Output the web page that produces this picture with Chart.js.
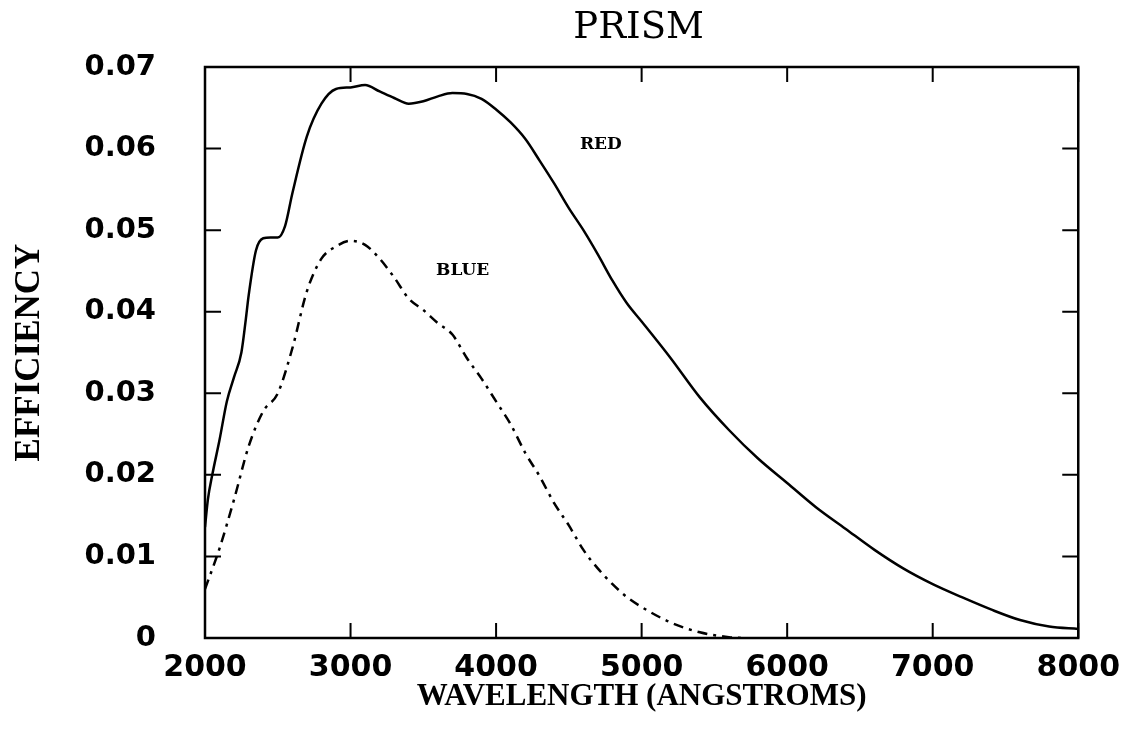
<!DOCTYPE html>
<html>
<head>
<meta charset="utf-8">
<script src="https://cdn.jsdelivr.net/npm/chart.js@4.4.1/dist/chart.umd.min.js"></script>
<style>
  html, body { margin: 0; padding: 0; background: #fff; }
  #wrap { width: 1124px; height: 740px; }
</style>
</head>
<body>
<div id="wrap"><canvas id="prism" width="1124" height="740"></canvas></div>
<script>
// wavelength grid (angstroms) and efficiency
var redWave = [2000,2020,2050,2100,2150,2200,2250,2280,2300,2350,2400,2450,2500,2550,2600,2700,2800,2900,3000,3100,3200,3300,3400,3500,3600,3700,3800,3900,4000,4100,4200,4300,4400,4500,4600,4700,4800,4900,5000,5200,5400,5600,5800,6000,6200,6400,6600,6800,7000,7200,7400,7600,7800,8000];
var redEff  = [0.0136,0.0170,0.0200,0.0243,0.0290,0.0320,0.0350,0.0390,0.0420,0.0475,0.0490,0.0491,0.0491,0.0505,0.0545,0.0615,0.0655,0.0673,0.0675,0.0678,0.0670,0.0662,0.0655,0.0658,0.0664,0.0668,0.0667,0.0661,0.0648,0.0632,0.0612,0.0585,0.0557,0.0527,0.0500,0.0470,0.0438,0.0410,0.0388,0.0343,0.0295,0.0255,0.0220,0.0190,0.0160,0.0134,0.0108,0.0085,0.0066,0.0050,0.0035,0.0022,0.0014,0.0011];

var blueWave = [2000,2100,2200,2300,2400,2500,2600,2700,2800,2900,3000,3100,3200,3300,3400,3500,3600,3700,3800,3900,4000,4100,4200,4300,4400,4500,4600,4700,4800,4900,5000,5200,5400,5600,5700];
var blueEff  = [0.0060,0.0110,0.0170,0.0235,0.0278,0.0300,0.0355,0.0425,0.0465,0.0480,0.0487,0.0482,0.0465,0.0442,0.0416,0.0402,0.0386,0.0372,0.0343,0.0318,0.0290,0.0262,0.0227,0.0198,0.0165,0.0138,0.0108,0.0085,0.0066,0.0050,0.0038,0.0019,0.0007,0.0001,0.0000];

var xTicks = [2000,3000,4000,5000,6000,7000,8000];
var yTicks = [0,0.01,0.02,0.03,0.04,0.05,0.06,0.07];
var curveLabels = ["RED","BLUE"];
var labelAt = [[4720,0.0605],[3770,0.0450]];
var chartTitle = "PRISM";

function pairs(xs, ys) {
  return xs.map(function (x, i) { return {x: x, y: ys[i]} })
}

// frame box, inward ticks on all four sides, title and the curve names
var framePlugin = {
  id: "frame",
  afterDatasetsDraw: function (chart) {
    var ctx = chart.ctx
    var a = chart.chartArea
    var xs = chart.scales.x
    var ys = chart.scales.y
    ctx.save()
    ctx.strokeStyle = "#000"
    ctx.lineWidth = 2.5
    ctx.strokeRect(a.left, a.top, a.right - a.left, a.bottom - a.top)
    ctx.lineWidth = 2
    ctx.beginPath()
    xTicks.forEach(function (v) {
      var px = xs.getPixelForValue(v)
      ctx.moveTo(px, a.bottom); ctx.lineTo(px, a.bottom - 15)
      ctx.moveTo(px, a.top); ctx.lineTo(px, a.top + 15)
    })
    yTicks.forEach(function (v) {
      var py = ys.getPixelForValue(v)
      ctx.moveTo(a.left, py); ctx.lineTo(a.left + 16, py)
      ctx.moveTo(a.right, py); ctx.lineTo(a.right - 16, py)
    })
    ctx.stroke()
    ctx.fillStyle = "#000"
    ctx.textAlign = "center"
    ctx.textBaseline = "middle"
    ctx.font = "37px 'DejaVu Serif', serif"
    ctx.fillText(chartTitle, (a.left + a.right) / 2 - 3, 28)
    ctx.font = "bold 17px 'DejaVu Serif', serif"
    curveLabels.forEach(function (t, i) {
      ctx.fillText(t, xs.getPixelForValue(labelAt[i][0]), ys.getPixelForValue(labelAt[i][1]))
    })
    ctx.restore()
  }
}

new Chart("prism", {
  type: "line",
  data: {
    datasets: [{
      label: "RED",
      data: pairs(redWave, redEff),
      borderColor: "#000",
      borderWidth: 2.5,
      pointRadius: 0,
      cubicInterpolationMode: "monotone",
      fill: false
    }, {
      label: "BLUE",
      data: pairs(blueWave, blueEff),
      borderColor: "#000",
      borderWidth: 2.5,
      borderDash: [10, 6, 3, 6],
      pointRadius: 0,
      cubicInterpolationMode: "monotone",
      fill: false
    }]
  },
  options: {
    responsive: false,
    animation: false,
    layout: {padding: {left: 0, right: 44, top: 67, bottom: 0}},
    plugins: {
      legend: {display: false},
      tooltip: {enabled: false},
      title: {display: false}
    },
    scales: {
      x: {
        type: "linear",
        min: 2000,
        max: 8000,
        grid: {display: false},
        border: {display: false},
        afterBuildTicks: function (s) { s.ticks = xTicks.map(function (v) { return {value: v} }) },
        afterFit: function (s) { s.height = 102 },
        ticks: {
          color: "#000",
          padding: 4,
          maxRotation: 0,
          font: {family: "'DejaVu Sans', sans-serif", size: 30, weight: "bold"},
          callback: function (v) { return String(v) }
        },
        title: {
          display: true,
          text: "WAVELENGTH (ANGSTROMS)",
          color: "#000",
          font: {family: "'Liberation Serif', serif", size: 31, weight: "bold"},
          padding: {top: 0, bottom: 24}
        }
      },
      y: {
        min: 0,
        max: 0.07,
        grid: {display: false},
        border: {display: false},
        afterBuildTicks: function (s) { s.ticks = yTicks.map(function (v) { return {value: v} }) },
        afterFit: function (s) { s.width = 205 },
        ticks: {
          color: "#000",
          padding: 41,
          font: {family: "'DejaVu Sans', sans-serif", size: 29, weight: "bold"},
          callback: function (v) { return v === 0 ? "0" : v.toFixed(2) }
        },
        title: {
          display: true,
          text: "EFFICIENCY",
          color: "#000",
          font: {family: "'Liberation Serif', serif", size: 35, weight: "bold"},
          padding: {top: 9, bottom: 0}
        }
      }
    }
  },
  plugins: [framePlugin]
})
</script>
</body>
</html>
